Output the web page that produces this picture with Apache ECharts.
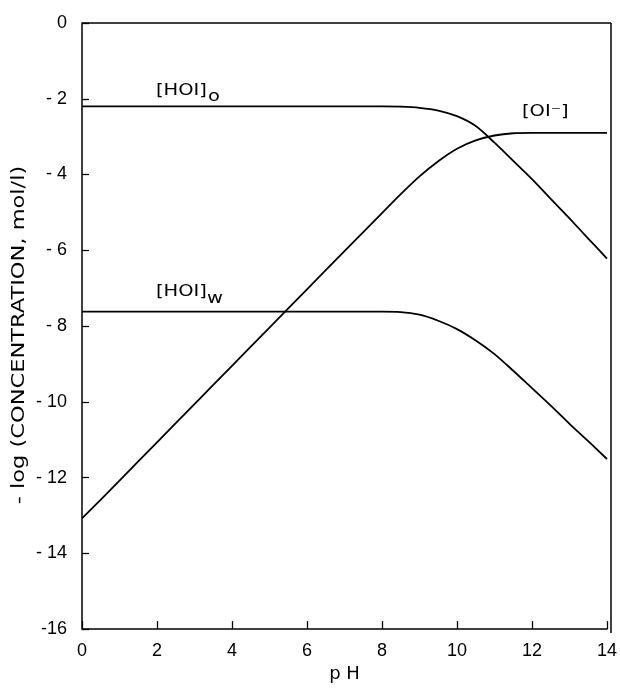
<!DOCTYPE html>
<html>
<head>
<meta charset="utf-8">
<script src="https://cdn.jsdelivr.net/npm/echarts@6/dist/echarts.min.js"></script>
<style>
html,body{margin:0;padding:0;background:#fff;}
#c{width:620px;height:688px;}
</style>
</head>
<body>
<div id="c"></div>
<script>
// pH sample points
const pH = [0,1,2,3,4,5,6,7,7.5,8,8.5,9,9.5,10,10.5,11,11.5,12,12.5,13,13.5,14];
// -log concentrations
const HOI_o = [-2.2,-2.2,-2.2,-2.2,-2.2,-2.2,-2.2,-2.2,-2.2,-2.2,-2.21,-2.24,-2.31,-2.46,-2.72,-3.16,-3.64,-4.12,-4.64,-5.16,-5.69,-6.22];
const HOI_w = [-7.62,-7.62,-7.62,-7.62,-7.62,-7.62,-7.62,-7.62,-7.62,-7.62,-7.63,-7.7,-7.86,-8.08,-8.38,-8.74,-9.18,-9.64,-10.1,-10.58,-11.04,-11.51];
const OI_minus = [-13.08,-12.08,-11.07,-10.06,-9.05,-8.04,-7.03,-6.02,-5.52,-5.02,-4.52,-4.05,-3.65,-3.32,-3.1,-2.97,-2.91,-2.9,-2.9,-2.9,-2.9,-2.9];
const xTicks = [0,2,4,6,8,10,12,14];
const yTicks = [0,-2,-4,-6,-8,-10,-12,-14,-16];
const yTitle = '- log (CONCENTRATION, mol/l)';
const xTitle = 'p H';

const TICKFONT = "'Liberation Sans','DejaVu Sans',sans-serif";
const FONT = "'DejaVu Sans','Liberation Sans',sans-serif";
const pairs = ys => pH.map((x,i)=>[x, ys[i]]);
const lineStyle = {color:'#000', width:1.8};
const lbl = (x, y, t) => ({type:'text', x:x, y:y, scaleX:1.3, style:{text:t, font:'15px '+FONT, fill:'#000'}});

const chart = echarts.init(document.getElementById('c'), null, {renderer:'canvas'});
chart.setOption({
  animation:false,
  backgroundColor:'#fff',
  grid:{left:82, right:9, top:23, bottom:55, show:false},
  xAxis:{
    type:'value', min:0, max:14, interval:2,
    name:xTitle, nameLocation:'middle', nameGap:34,
    nameTextStyle:{color:'#000', fontSize:18, fontFamily:FONT},
    axisLine:{show:true, onZero:false, lineStyle:{color:'#000', width:1.5}},
    axisTick:{show:true, inside:true, length:8, lineStyle:{color:'#000', width:1.3}},
    axisLabel:{color:'#000', fontSize:18, fontFamily:TICKFONT, margin:13},
    splitLine:{show:false}
  },
  yAxis:{
    type:'value', min:-16, max:0, interval:2,
    axisLine:{show:true, onZero:false, lineStyle:{color:'#000', width:1.5}},
    axisTick:{show:true, inside:true, length:7, lineStyle:{color:'#000', width:1.3}},
    axisLabel:{color:'#000', fontSize:18, fontFamily:TICKFONT, margin:15,
      formatter: v => v===0 ? '0' : (v===-16 ? '-16' : '- ' + Math.abs(v))},
    splitLine:{show:false}
  },
  series:[
    {type:'line', name:'[HOI]o', data:pairs(HOI_o), smooth:0.3, symbol:'none', lineStyle:lineStyle},
    {type:'line', name:'[HOI]w', data:pairs(HOI_w), smooth:0.3, symbol:'none', lineStyle:lineStyle},
    {type:'line', name:'[OI-]', data:pairs(OI_minus), smooth:0.3, symbol:'none', lineStyle:lineStyle}
  ],
  graphic:[
    // box top and right
    {type:'line', shape:{x1:82, y1:23, x2:611, y2:23}, style:{stroke:'#000', lineWidth:1.5}},
    {type:'line', shape:{x1:611, y1:23, x2:611, y2:633}, style:{stroke:'#000', lineWidth:1.5}},
    // y-axis title
    {type:'text', x:19, y:335, rotation:Math.PI/2, scaleX:1.25,
      style:{text:yTitle, font:'18px '+FONT, fill:'#000', align:'center', verticalAlign:'middle'}},
    // curve labels
    lbl(156, 84, '[HOI]'),
    lbl(208, 90, 'o'),
    lbl(156, 285, '[HOI]'),
    lbl(207, 292, 'w'),
    lbl(522, 105, '[OI⁻]')
  ]
});
</script>
</body>
</html>
